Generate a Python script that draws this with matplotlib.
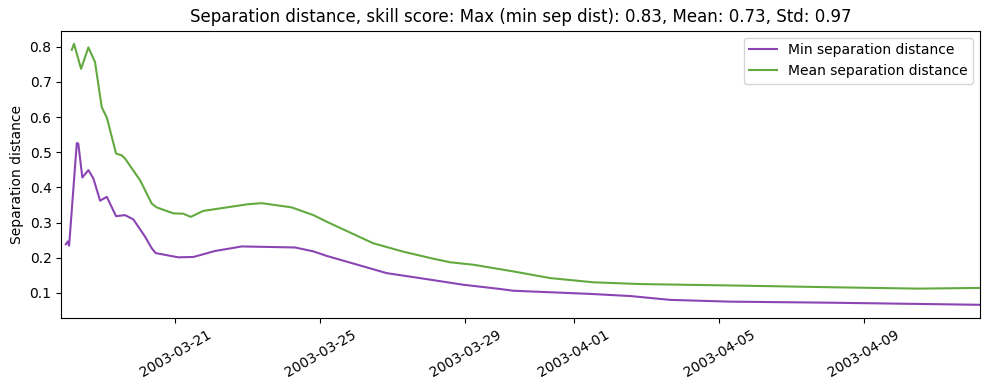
import matplotlib
matplotlib.use("Agg")
import matplotlib.pyplot as plt
import pandas as pd

# 读取自图片的数据
min_times = [
    "2003-03-17 23:30", "2003-03-18 00:45", "2003-03-18 01:40", "2003-03-18 06:45",
    "2003-03-18 07:45", "2003-03-18 10:25", "2003-03-18 14:25", "2003-03-18 17:45",
    "2003-03-18 22:10", "2003-03-19 02:35", "2003-03-19 08:45", "2003-03-19 14:40",
    "2003-03-19 20:10", "2003-03-20 03:55", "2003-03-20 08:20", "2003-03-20 11:00",
    "2003-03-21 02:00", "2003-03-21 12:00", "2003-03-22 02:15", "2003-03-22 13:20",
    "2003-03-22 20:00", "2003-03-24 07:15", "2003-03-24 19:20", "2003-03-25 04:15",
    "2003-03-26 20:00", "2003-03-27 22:25", "2003-03-28 22:40", "2003-03-29 23:00",
    "2003-03-30 07:45", "2003-04-01 10:35", "2003-04-02 13:00", "2003-04-03 15:35",
    "2003-04-05 07:10", "2003-04-08 01:25", "2003-04-12 04:50",
]
min_sep = [
    0.238, 0.246, 0.234, 0.526, 0.524, 0.428, 0.449, 0.425,
    0.362, 0.373, 0.318, 0.321, 0.309, 0.260, 0.227, 0.213,
    0.201, 0.202, 0.219, 0.227, 0.232, 0.229, 0.218, 0.205,
    0.156, 0.139, 0.123, 0.111, 0.106, 0.097, 0.091, 0.080,
    0.075, 0.072, 0.066,
]

mean_times = [
    "2003-03-18 03:25", "2003-03-18 04:55", "2003-03-18 09:35", "2003-03-18 14:25",
    "2003-03-18 18:50", "2003-03-18 23:15", "2003-03-19 02:40", "2003-03-19 08:45",
    "2003-03-19 12:30", "2003-03-19 14:40", "2003-03-20 00:40", "2003-03-20 08:20",
    "2003-03-20 11:40", "2003-03-20 22:40", "2003-03-21 05:15", "2003-03-21 10:10",
    "2003-03-21 18:30", "2003-03-23 00:00", "2003-03-23 09:10", "2003-03-24 05:00",
    "2003-03-24 19:25", "2003-03-25 04:20", "2003-03-26 11:00", "2003-03-27 07:00",
    "2003-03-28 02:50", "2003-03-28 13:55", "2003-03-29 05:15", "2003-03-30 07:40",
    "2003-03-31 08:10", "2003-04-01 12:45", "2003-04-02 19:40", "2003-04-05 07:10",
    "2003-04-08 01:25", "2003-04-10 12:00", "2003-04-12 04:50",
]
mean_sep = [
    0.791, 0.808, 0.737, 0.798, 0.756, 0.628, 0.598, 0.496,
    0.491, 0.482, 0.420, 0.354, 0.343, 0.326, 0.325, 0.316,
    0.333, 0.352, 0.355, 0.343, 0.321, 0.302, 0.241, 0.217,
    0.197, 0.187, 0.180, 0.161, 0.142, 0.130, 0.125, 0.121,
    0.116, 0.112, 0.114,
]

title = "Separation distance, skill score: Max (min sep dist): 0.83, Mean: 0.73, Std: 0.97"

fig, ax = plt.subplots(figsize=(9.89, 3.9), dpi=100)
ax.plot(pd.to_datetime(min_times), min_sep, color="#8b44b3", label="Min separation distance")
ax.plot(pd.to_datetime(mean_times), mean_sep, color="#62aa3f", label="Mean separation distance")
ax.set_xlim(pd.Timestamp("2003-03-17 20:30"), pd.Timestamp("2003-04-12 04:50"))
ax.set_ylabel("Separation distance")
ax.set_title(title)
ax.legend(loc="upper right")
plt.xticks(rotation=30)
# 手动布局，对齐参考图的坐标轴位置
fig.subplots_adjust(left=0.062, right=0.991, top=0.921, bottom=0.185)
plt.savefig("out.png")
